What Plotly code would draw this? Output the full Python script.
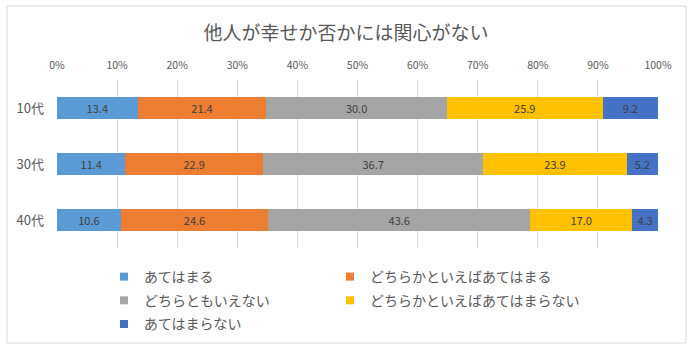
import plotly.graph_objects as go

categories = ["10代", "30代", "40代"]
series_names = ["あてはまる", "どちらかといえばあてはまる", "どちらともいえない",
                "どちらかといえばあてはまらない", "あてはまらない"]
v_atehamaru = [13.4, 11.4, 10.6]
v_dochiraka_ate = [21.4, 22.9, 24.6]
v_dochiratomo = [30.0, 36.7, 43.6]
v_dochiraka_atenai = [25.9, 23.9, 17.0]
v_atehamaranai = [9.2, 5.2, 4.3]
series_values = [v_atehamaru, v_dochiraka_ate, v_dochiratomo, v_dochiraka_atenai, v_atehamaranai]
colors = ["#5B9BD5", "#ED7D31", "#A5A5A5", "#FFC000", "#4472C4"]
legend_column = ["legend", "legend2", "legend", "legend2", "legend"]
tick_vals = [0, 10, 20, 30, 40, 50, 60, 70, 80, 90, 100]
tick_text = [f"{v}%" for v in tick_vals]

FONT = "Noto Sans CJK JP"
W, H = 692, 354
ML, MR, MT, MB = 57, 34, 80, 106
pw, ph = W - ML - MR, H - MT - MB

def px2x(px):
    return (px - ML) / pw

def py2y(py):
    return (H - MB - py) / ph

fig = go.Figure()
for i, (name, vals, col, lg) in enumerate(zip(series_names, series_values, colors, legend_column)):
    fig.add_trace(go.Bar(
        y=categories, x=vals, name=name, orientation="h",
        marker=dict(color=col, line=dict(width=0)),
        text=[f"{v:.1f}" for v in vals], textposition="inside",
        insidetextanchor="middle", textangle=0,
        textfont=dict(family=FONT, size=11, color="#404040"),
        showlegend=False, hoverinfo="skip",
    ))
    fig.add_trace(go.Scatter(
        x=[None], y=[None], mode="markers", name=name,
        marker=dict(symbol="square", size=8, color=col),
        showlegend=True, legend=lg, legendgroup=f"g{i}",
    ))

legend_common = dict(orientation="v", xanchor="left", yanchor="top", traceorder="grouped",
                     itemwidth=30, bgcolor="rgba(0,0,0,0)", tracegroupgap=2.5,
                     font=dict(family=FONT, size=14, color="#595959"))

fig.update_layout(
    width=W, height=H,
    margin=dict(l=ML, r=MR, t=MT, b=MB),
    barmode="stack", barnorm="percent", bargap=0.59,
    paper_bgcolor="white", plot_bgcolor="white",
    title=dict(text="他人が幸せか否かには関心がない", x=0.5, xanchor="center",
               y=1 - 33 / H, yanchor="middle",
               font=dict(family=FONT, size=19, color="#595959")),
    xaxis=dict(side="top", range=[0, 100], tickvals=tick_vals, ticktext=tick_text,
               showgrid=True, gridcolor="#D9D9D9", gridwidth=1, zeroline=False,
               showline=False, ticks="", ticklabelstandoff=8,
               tickfont=dict(family=FONT, size=10.5, color="#595959")),
    yaxis=dict(autorange="reversed", showgrid=False, zeroline=False, showline=False,
               ticks="", ticklabelstandoff=12,
               tickfont=dict(family=FONT, size=13, color="#595959")),
    legend=dict(x=px2x(104), y=py2y(261), **legend_common),
    legend2=dict(x=px2x(330), y=py2y(261), **legend_common),
    shapes=[dict(type="rect", xref="paper", yref="paper",
                 x0=px2x(7), x1=px2x(686), y0=py2y(343), y1=py2y(6),
                 line=dict(color="#D9D9D9", width=1), fillcolor="rgba(0,0,0,0)", layer="below")],
)

fig.write_html("out.html")
